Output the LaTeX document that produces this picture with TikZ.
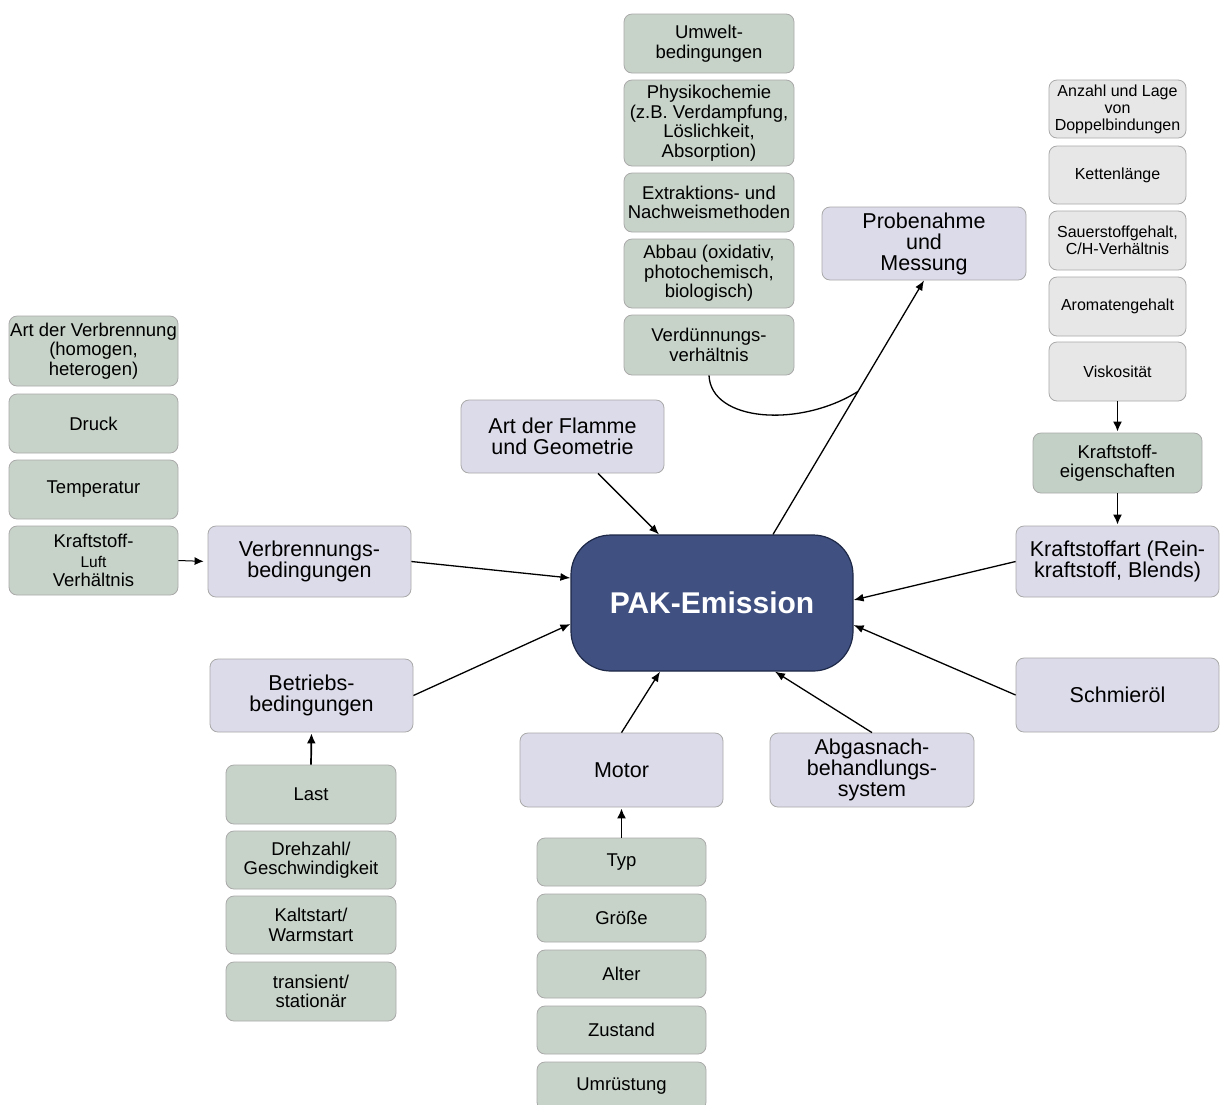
\documentclass[tikz,border=0pt]{standalone}
\usepackage{fontspec}
\setmainfont{Liberation Sans}
\usetikzlibrary{arrows.meta,calc}
\definecolor{greenfill}{HTML}{C7D3C9}
\definecolor{keigfill}{HTML}{C3D0C5}
\definecolor{lavfill}{HTML}{DCDBEA}
\definecolor{grayfill}{HTML}{E7E7E7}
\definecolor{bordergray}{HTML}{A9A9A9}
\definecolor{pakfill}{HTML}{3F5081}
\definecolor{pakborder}{HTML}{1E2847}
\newcommand\mybox[6]{\node[#1, minimum width=#4pt, minimum height=#5pt] (#2) at (#3) {#6};}
\begin{document}
\begin{tikzpicture}[x=1pt,y=-1pt,
  box/.style={draw=bordergray, line width=0.8pt, rounded corners=8pt, inner sep=0pt, align=center, text=black},
  gbox/.style={box, fill=greenfill, font=\fontsize{18.5}{19.5}\selectfont},
  lbox/.style={box, fill=lavfill, font=\fontsize{21.5}{21}\selectfont},
  rbox/.style={box, fill=grayfill, font=\fontsize{16}{17}\selectfont},
  arr/.style={-{Latex[length=10pt,width=8pt]}, line width=1.3pt},
  varr/.style={-{Latex[length=10pt,width=9pt]}, line width=1.7pt, shorten >=1pt},
  conn/.style={line width=1.3pt}]
\useasboundingbox[fill=white] (0,0) rectangle (1220,1104);
% left column
\mybox{gbox}{artv}{93.5,351}{169}{70}{Art der Verbrennung\\(homogen,\\heterogen)}
\mybox{gbox}{druck}{93.5,423.5}{169}{59}{Druck}
\mybox{gbox}{temp}{93.5,489.5}{169}{59}{Temperatur}
\mybox{gbox}{kl}{93.5,560.5}{169}{69}{Kraftstoff-\\{\fontsize{15.5}{15}\selectfont Luft}\\Verhältnis}
\mybox{lbox}{verb}{309.5,561.5}{203}{71}{Verbrennungs-\\bedingungen}
\mybox{lbox}{flamme}{562.5,436.5}{203}{73}{Art der Flamme\\und Geometrie}
% top column
\mybox{gbox}{umwelt}{709,43.5}{170}{59}{Umwelt-\\bedingungen}
\mybox{gbox}{physiko}{709,123}{170}{86}{Physikochemie\\(z.B. Verdampfung,\\Löslichkeit,\\Absorption)}
\mybox{gbox}{extr}{709,202.5}{170}{59}{Extraktions- und\\Nachweismethoden}
\mybox{gbox}{abbau}{709,273.5}{170}{69}{Abbau (oxidativ,\\photochemisch,\\biologisch)}
\mybox{gbox}{verd}{709,345}{170}{60}{Verdünnungs-\\verhältnis}
\mybox{lbox}{probe}{924,243.5}{204}{73}{Probenahme\\und\\Messung}
% right column
\mybox{rbox}{anzahl}{1117.5,109}{137}{58}{Anzahl und Lage\\von\\Doppelbindungen}
\mybox{rbox}{kette}{1117.5,175}{137}{58}{Kettenlänge}
\mybox{rbox}{sauer}{1117.5,240.5}{137}{59}{Sauerstoffgehalt,\\C/H-Verhältnis}
\mybox{rbox}{arom}{1117.5,306.5}{137}{59}{Aromatengehalt}
\mybox{rbox}{visk}{1117.5,371.5}{137}{59}{Viskosität}
\mybox{gbox,fill=keigfill}{keig}{1117.5,463}{169}{60}{Kraftstoff-\\eigenschaften}
\mybox{lbox}{kart}{1117.5,561.5}{203}{71}{Kraftstoffart (Rein-\\kraftstoff, Blends)}
\mybox{lbox}{schm}{1117.5,695}{203}{74}{Schmieröl}
% center
\node[draw=pakborder, line width=1.2pt, fill=pakfill, rounded corners=40pt, minimum width=282pt, minimum height=136pt, text=white, font=\fontsize{30}{30}\selectfont\bfseries] (pak) at (712,603) {PAK-Emission};
% bottom
\mybox{lbox}{abgas}{872,770}{204}{74}{Abgasnach-\\behandlungs-\\system}
\mybox{lbox}{motor}{621.5,770}{203}{74}{Motor}
\mybox{lbox}{betr}{311.5,695.5}{203}{73}{Betriebs-\\bedingungen}
\mybox{gbox}{last}{311,794.5}{170}{59}{Last}
\mybox{gbox}{dreh}{311,860}{170}{58}{Drehzahl/\\Geschwindigkeit}
\mybox{gbox}{kalt}{311,925}{170}{58}{Kaltstart/\\Warmstart}
\mybox{gbox}{trans}{311,991.5}{170}{59}{transient/\\stationär}
\mybox{gbox}{typ}{621.5,862}{169}{48}{Typ}
\mybox{gbox}{groesse}{621.5,918}{169}{48}{Größe}
\mybox{gbox}{alter}{621.5,974}{169}{48}{Alter}
\mybox{gbox}{zustand}{621.5,1030}{169}{48}{Zustand}
\mybox{gbox}{umr}{621.5,1086}{169}{48}{Umrüstung}
% connectors
\draw[-{Latex[length=9pt,width=8pt]}, line width=1pt, shorten >=4pt] (kl.east) -- (verb.west);
\draw[arr] (verb.east) -- ([yshift=25pt]pak.west);
\draw[arr] (betr.east) -- ([yshift=-21pt]pak.west);
\draw[arr] ([xshift=35.5pt]flamme.south) -- ([xshift=-53pt]pak.north);
\coordinate (pt) at ([xshift=61pt]pak.north);
\draw[arr] (pt) -- (probe.south);
\coordinate (m) at ($(pt)!0.563!(probe.south)$);
\draw[conn] (verd.south) .. controls (711,422) and (800,428) .. (m);
\draw[arr] (kart.west) -- ([yshift=3pt]pak.east);
\draw[arr] (schm.west) -- ([yshift=-22pt]pak.east);
\draw[arr] (abgas.north) -- ([xshift=63pt]pak.south);
\draw[arr] (motor.north) -- ([xshift=-52pt]pak.south);
\draw[varr] (last.north) -- (betr.south);
\draw[varr] (typ.north) -- (motor.south);
\draw[varr] (visk.south) -- (keig.north);
\draw[varr] (keig.south) -- (kart.north);
\end{tikzpicture}
\end{document}
